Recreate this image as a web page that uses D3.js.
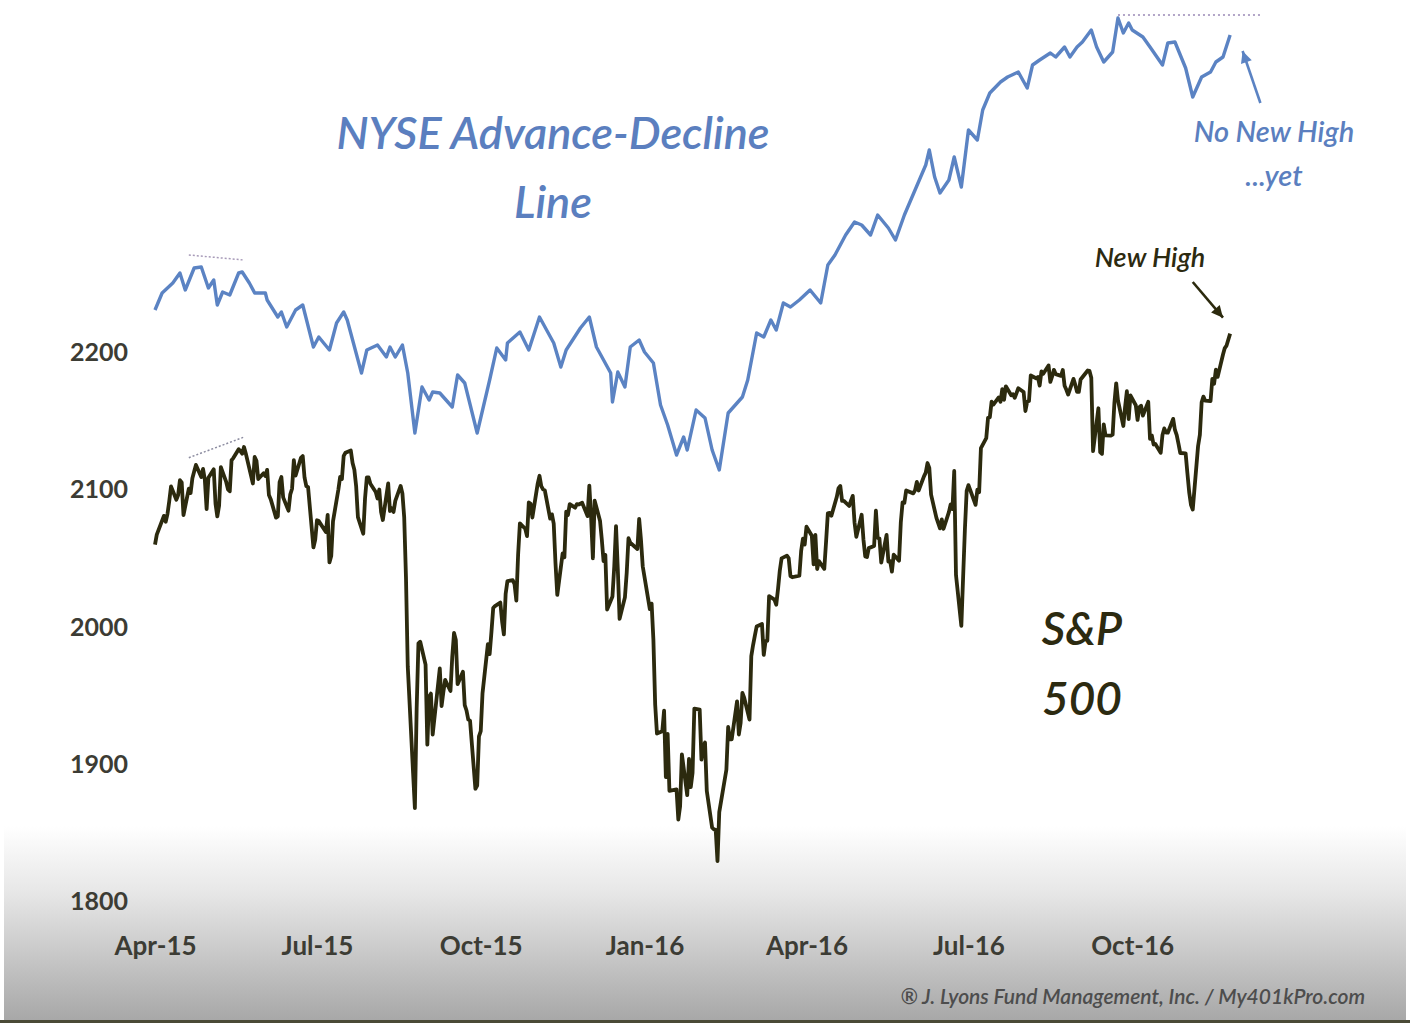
<!DOCTYPE html>
<html>
<head>
<meta charset="utf-8">
<script src="https://cdn.jsdelivr.net/npm/d3@7"></script>
<style>
  body { margin: 0; background: #fff; }
  svg { display: block; font-family: Lato, "Open Sans", sans-serif; }
</style>
</head>
<body>
<div id="chart"></div>
<script>
// ---- data ----
// S&P 500 daily closes, Apr 2015 - Nov 2016
const spData = [
  ["2015-04-01",2059.7],["2015-04-02",2066.9],["2015-04-06",2080.6],["2015-04-07",2076.3],["2015-04-08",2081.9],
  ["2015-04-09",2091.2],["2015-04-10",2102.1],["2015-04-13",2092.4],["2015-04-14",2095.8],["2015-04-15",2106.6],
  ["2015-04-16",2105.0],["2015-04-17",2081.2],["2015-04-20",2100.4],["2015-04-21",2097.3],["2015-04-22",2108.0],
  ["2015-04-23",2112.9],["2015-04-24",2117.7],["2015-04-27",2108.9],["2015-04-28",2114.8],["2015-04-29",2106.9],
  ["2015-04-30",2085.5],["2015-05-01",2108.3],["2015-05-04",2114.5],["2015-05-05",2089.5],["2015-05-06",2080.2],
  ["2015-05-07",2088.0],["2015-05-08",2116.1],["2015-05-11",2105.3],["2015-05-12",2099.9],["2015-05-13",2098.5],
  ["2015-05-14",2121.1],["2015-05-15",2122.7],["2015-05-18",2129.2],["2015-05-19",2127.8],["2015-05-20",2125.9],
  ["2015-05-21",2130.8],["2015-05-22",2126.1],["2015-05-26",2104.2],["2015-05-27",2123.5],["2015-05-28",2120.8],
  ["2015-05-29",2107.4],["2015-06-01",2111.7],["2015-06-02",2109.6],["2015-06-03",2114.1],["2015-06-04",2095.8],
  ["2015-06-05",2092.8],["2015-06-08",2079.3],["2015-06-09",2080.2],["2015-06-10",2105.2],["2015-06-11",2108.9],
  ["2015-06-12",2094.1],["2015-06-15",2084.4],["2015-06-16",2096.3],["2015-06-17",2100.4],["2015-06-18",2121.2],
  ["2015-06-19",2110.0],["2015-06-22",2122.9],["2015-06-23",2124.2],["2015-06-24",2108.6],["2015-06-25",2102.3],
  ["2015-06-26",2101.5],["2015-06-29",2057.6],["2015-06-30",2063.1],["2015-07-01",2077.4],["2015-07-02",2076.8],
  ["2015-07-06",2068.8],["2015-07-07",2081.3],["2015-07-08",2046.7],["2015-07-09",2051.3],["2015-07-10",2076.6],
  ["2015-07-13",2099.6],["2015-07-14",2109.0],["2015-07-15",2107.4],["2015-07-16",2124.3],["2015-07-17",2126.6],
  ["2015-07-20",2128.3],["2015-07-21",2119.2],["2015-07-22",2114.2],["2015-07-23",2102.2],["2015-07-24",2079.7],
  ["2015-07-27",2067.6],["2015-07-28",2093.3],["2015-07-29",2108.6],["2015-07-30",2108.6],["2015-07-31",2104.0],
  ["2015-08-03",2098.0],["2015-08-04",2093.3],["2015-08-05",2099.8],["2015-08-06",2083.6],["2015-08-07",2077.6],
  ["2015-08-10",2104.2],["2015-08-11",2084.1],["2015-08-12",2086.1],["2015-08-13",2083.4],["2015-08-14",2091.5],
  ["2015-08-17",2102.4],["2015-08-18",2096.9],["2015-08-19",2079.6],["2015-08-20",2035.7],["2015-08-21",1970.9],
  ["2015-08-24",1893.2],["2015-08-25",1867.6],["2015-08-26",1940.5],["2015-08-27",1987.7],["2015-08-28",1988.9],
  ["2015-08-31",1972.2],["2015-09-01",1913.9],["2015-09-02",1948.9],["2015-09-03",1951.1],["2015-09-04",1921.2],
  ["2015-09-08",1969.4],["2015-09-09",1942.0],["2015-09-10",1952.3],["2015-09-11",1961.1],["2015-09-14",1953.0],
  ["2015-09-15",1978.1],["2015-09-16",1995.3],["2015-09-17",1990.2],["2015-09-18",1958.0],["2015-09-21",1967.0],
  ["2015-09-22",1942.7],["2015-09-23",1938.8],["2015-09-24",1932.2],["2015-09-25",1931.3],["2015-09-28",1881.8],
  ["2015-09-29",1884.1],["2015-09-30",1920.0],["2015-10-01",1923.8],["2015-10-02",1951.4],["2015-10-05",1987.1],
  ["2015-10-06",1979.9],["2015-10-07",1995.8],["2015-10-08",2013.4],["2015-10-09",2014.9],["2015-10-12",2017.5],
  ["2015-10-13",2003.7],["2015-10-14",1994.2],["2015-10-15",2023.9],["2015-10-16",2033.1],["2015-10-19",2033.7],
  ["2015-10-20",2030.8],["2015-10-21",2018.9],["2015-10-22",2052.5],["2015-10-23",2075.2],["2015-10-26",2071.2],
  ["2015-10-27",2065.9],["2015-10-28",2090.4],["2015-10-29",2089.4],["2015-10-30",2079.4],["2015-11-02",2104.1],
  ["2015-11-03",2109.8],["2015-11-04",2102.3],["2015-11-05",2099.9],["2015-11-06",2099.2],["2015-11-09",2078.6],
  ["2015-11-10",2081.7],["2015-11-11",2075.0],["2015-11-12",2046.0],["2015-11-13",2023.0],["2015-11-16",2053.2],
  ["2015-11-17",2050.4],["2015-11-18",2083.6],["2015-11-19",2081.2],["2015-11-20",2089.2],["2015-11-23",2086.6],
  ["2015-11-24",2089.1],["2015-11-25",2088.9],["2015-11-27",2090.1],["2015-11-30",2080.4],["2015-12-01",2102.6],
  ["2015-12-02",2079.5],["2015-12-03",2049.6],["2015-12-04",2091.7],["2015-12-07",2077.1],["2015-12-08",2063.6],
  ["2015-12-09",2047.6],["2015-12-10",2052.2],["2015-12-11",2012.4],["2015-12-14",2021.9],["2015-12-15",2043.4],
  ["2015-12-16",2073.1],["2015-12-17",2041.9],["2015-12-18",2005.6],["2015-12-21",2021.2],["2015-12-22",2039.0],
  ["2015-12-23",2064.3],["2015-12-24",2061.0],["2015-12-28",2056.5],["2015-12-29",2078.4],["2015-12-30",2063.4],
  ["2015-12-31",2043.9],["2016-01-04",2012.7],["2016-01-05",2016.7],["2016-01-06",1990.3],["2016-01-07",1943.1],
  ["2016-01-08",1922.0],["2016-01-11",1923.7],["2016-01-12",1938.7],["2016-01-13",1890.3],["2016-01-14",1921.8],
  ["2016-01-15",1880.3],["2016-01-19",1881.3],["2016-01-20",1859.3],["2016-01-21",1869.0],["2016-01-22",1906.9],
  ["2016-01-25",1877.1],["2016-01-26",1903.6],["2016-01-27",1883.0],["2016-01-28",1893.4],["2016-01-29",1940.2],
  ["2016-02-01",1939.4],["2016-02-02",1903.0],["2016-02-03",1912.5],["2016-02-04",1915.5],["2016-02-05",1880.1],
  ["2016-02-08",1853.4],["2016-02-09",1852.2],["2016-02-10",1851.9],["2016-02-11",1829.1],["2016-02-12",1864.8],
  ["2016-02-16",1895.6],["2016-02-17",1926.8],["2016-02-18",1917.8],["2016-02-19",1917.8],["2016-02-22",1945.5],
  ["2016-02-23",1921.3],["2016-02-24",1929.8],["2016-02-25",1951.7],["2016-02-26",1948.1],["2016-02-29",1932.2],
  ["2016-03-01",1978.4],["2016-03-02",1986.5],["2016-03-03",1993.4],["2016-03-04",2000.0],["2016-03-07",2001.8],
  ["2016-03-08",1979.3],["2016-03-09",1989.3],["2016-03-10",1989.6],["2016-03-11",2022.2],["2016-03-14",2019.6],
  ["2016-03-15",2015.9],["2016-03-16",2027.2],["2016-03-17",2040.6],["2016-03-18",2049.6],["2016-03-21",2051.6],
  ["2016-03-22",2049.8],["2016-03-23",2036.7],["2016-03-24",2035.9],["2016-03-28",2037.1],["2016-03-29",2055.0],
  ["2016-03-30",2064.0],["2016-03-31",2059.7],["2016-04-01",2072.8],["2016-04-04",2066.1],["2016-04-05",2045.2],
  ["2016-04-06",2066.7],["2016-04-07",2041.9],["2016-04-08",2047.6],["2016-04-11",2042.0],["2016-04-12",2061.7],
  ["2016-04-13",2082.4],["2016-04-14",2082.8],["2016-04-15",2080.7],["2016-04-18",2094.3],["2016-04-19",2100.8],
  ["2016-04-20",2102.4],["2016-04-21",2091.5],["2016-04-22",2091.6],["2016-04-25",2087.8],["2016-04-26",2091.7],
  ["2016-04-27",2095.2],["2016-04-28",2075.8],["2016-04-29",2065.3],["2016-05-02",2081.4],["2016-05-03",2063.4],
  ["2016-05-04",2051.1],["2016-05-05",2050.6],["2016-05-06",2057.1],["2016-05-09",2058.7],["2016-05-10",2084.4],
  ["2016-05-11",2064.5],["2016-05-12",2064.1],["2016-05-13",2046.6],["2016-05-16",2066.7],["2016-05-17",2047.2],
  ["2016-05-18",2047.6],["2016-05-19",2040.0],["2016-05-20",2052.3],["2016-05-23",2048.0],["2016-05-24",2076.1],
  ["2016-05-25",2090.5],["2016-05-26",2090.1],["2016-05-27",2099.1],["2016-05-31",2097.0],["2016-06-01",2099.3],
  ["2016-06-02",2105.3],["2016-06-03",2099.1],["2016-06-06",2109.4],["2016-06-07",2112.1],["2016-06-08",2119.1],
  ["2016-06-09",2115.5],["2016-06-10",2096.1],["2016-06-13",2079.1],["2016-06-14",2075.3],["2016-06-15",2071.5],
  ["2016-06-16",2078.0],["2016-06-17",2071.2],["2016-06-20",2083.3],["2016-06-21",2088.9],["2016-06-22",2085.5],
  ["2016-06-23",2113.3],["2016-06-24",2037.4],["2016-06-27",2000.5],["2016-06-28",2036.1],["2016-06-29",2070.8],
  ["2016-06-30",2098.9],["2016-07-01",2103.0],["2016-07-05",2088.6],["2016-07-06",2099.7],["2016-07-07",2097.9],
  ["2016-07-08",2129.9],["2016-07-11",2137.2],["2016-07-12",2152.1],["2016-07-13",2152.4],["2016-07-14",2163.8],
  ["2016-07-15",2161.7],["2016-07-18",2166.9],["2016-07-19",2163.8],["2016-07-20",2173.0],["2016-07-21",2165.2],
  ["2016-07-22",2175.0],["2016-07-25",2168.5],["2016-07-26",2169.2],["2016-07-27",2166.6],["2016-07-28",2170.1],
  ["2016-07-29",2173.6],["2016-08-01",2170.8],["2016-08-02",2157.0],["2016-08-03",2163.8],["2016-08-04",2164.3],
  ["2016-08-05",2182.9],["2016-08-08",2180.9],["2016-08-09",2181.7],["2016-08-10",2175.5],["2016-08-11",2185.8],
  ["2016-08-12",2184.1],["2016-08-15",2190.2],["2016-08-16",2178.2],["2016-08-17",2182.2],["2016-08-18",2187.0],
  ["2016-08-19",2183.9],["2016-08-22",2182.6],["2016-08-23",2186.9],["2016-08-24",2175.4],["2016-08-25",2172.5],
  ["2016-08-26",2169.0],["2016-08-29",2180.4],["2016-08-30",2176.1],["2016-08-31",2171.0],["2016-09-01",2170.9],
  ["2016-09-02",2180.0],["2016-09-06",2186.5],["2016-09-07",2186.2],["2016-09-08",2181.3],["2016-09-09",2127.8],
  ["2016-09-12",2159.0],["2016-09-13",2127.0],["2016-09-14",2125.8],["2016-09-15",2147.3],["2016-09-16",2139.2],
  ["2016-09-19",2139.1],["2016-09-20",2139.8],["2016-09-21",2163.1],["2016-09-22",2177.2],["2016-09-23",2164.7],
  ["2016-09-26",2146.1],["2016-09-27",2159.9],["2016-09-28",2171.4],["2016-09-29",2151.1],["2016-09-30",2168.3],
  ["2016-10-03",2161.2],["2016-10-04",2150.5],["2016-10-05",2159.7],["2016-10-06",2160.8],["2016-10-07",2153.7],
  ["2016-10-10",2163.7],["2016-10-11",2136.7],["2016-10-12",2139.2],["2016-10-13",2132.6],["2016-10-14",2133.0],
  ["2016-10-17",2126.5],["2016-10-18",2139.6],["2016-10-19",2144.3],["2016-10-20",2141.3],["2016-10-21",2141.2],
  ["2016-10-24",2151.3],["2016-10-25",2143.2],["2016-10-26",2139.4],["2016-10-27",2133.0],["2016-10-28",2126.4],
  ["2016-10-31",2126.2],["2016-11-01",2111.7],["2016-11-02",2097.9],["2016-11-03",2088.7],["2016-11-04",2085.2],
  ["2016-11-07",2131.5],["2016-11-08",2139.6],["2016-11-09",2163.3],["2016-11-10",2167.5],["2016-11-11",2164.5],
  ["2016-11-14",2164.2],["2016-11-15",2180.4],["2016-11-16",2176.9],["2016-11-17",2187.1],["2016-11-18",2181.9],
  ["2016-11-21",2198.2],["2016-11-22",2202.9],["2016-11-23",2204.7],["2016-11-25",2213.4]
];

// NYSE advance-decline line (relative level)
const adData = [
  ["2015-04-01",19.0],["2015-04-05",20.7],["2015-04-11",21.7],["2015-04-15",22.7],["2015-04-18",21.0],
  ["2015-04-23",23.2],["2015-04-27",23.3],["2015-05-01",21.2],["2015-05-04",22.0],["2015-05-06",19.5],
  ["2015-05-09",20.8],["2015-05-13",20.5],["2015-05-18",22.7],["2015-05-20",22.8],["2015-05-24",21.7],
  ["2015-05-27",20.7],["2015-06-02",20.7],["2015-06-03",20.0],["2015-06-09",18.3],["2015-06-11",18.8],
  ["2015-06-14",17.3],["2015-06-19",19.0],["2015-06-23",19.5],["2015-06-29",15.3],["2015-07-02",16.3],
  ["2015-07-08",15.0],["2015-07-12",17.7],["2015-07-16",18.8],["2015-07-18",18.0],["2015-07-26",12.7],
  ["2015-07-29",15.0],["2015-08-04",15.5],["2015-08-09",14.3],["2015-08-11",15.3],["2015-08-14",14.3],
  ["2015-08-18",15.5],["2015-08-21",12.7],["2015-08-25",6.7],["2015-08-29",11.3],["2015-09-02",10.0],
  ["2015-09-04",10.8],["2015-09-08",10.7],["2015-09-15",9.3],["2015-09-18",12.5],["2015-09-22",11.7],
  ["2015-09-29",6.7],["2015-10-06",12.0],["2015-10-10",15.2],["2015-10-15",14.0],["2015-10-16",15.7],
  ["2015-10-23",16.8],["2015-10-28",15.0],["2015-11-03",18.3],["2015-11-11",15.7],["2015-11-15",13.3],
  ["2015-11-18",15.0],["2015-11-26",17.2],["2015-12-01",18.3],["2015-12-05",15.3],["2015-12-13",12.7],
  ["2015-12-14",9.8],["2015-12-17",12.8],["2015-12-21",11.3],["2015-12-24",15.3],["2015-12-29",16.0],
  ["2016-01-01",14.8],["2016-01-06",13.7],["2016-01-10",9.5],["2016-01-14",7.5],["2016-01-19",4.5],
  ["2016-01-23",6.3],["2016-01-25",5.0],["2016-01-30",9.0],["2016-02-04",8.2],["2016-02-08",5.0],
  ["2016-02-12",3.0],["2016-02-17",8.7],["2016-02-22",9.7],["2016-02-25",10.3],["2016-02-28",12.0],
  ["2016-03-04",16.7],["2016-03-08",16.3],["2016-03-12",18.0],["2016-03-15",17.0],["2016-03-19",19.7],
  ["2016-03-23",19.3],["2016-03-28",20.0],["2016-04-03",21.0],["2016-04-09",19.7],["2016-04-13",23.5],
  ["2016-04-17",24.5],["2016-04-23",26.5],["2016-04-28",27.8],["2016-05-02",27.5],["2016-05-07",26.5],
  ["2016-05-11",28.5],["2016-05-17",27.2],["2016-05-21",26.0],["2016-05-26",28.5],["2016-06-01",31.0],
  ["2016-06-07",33.5],["2016-06-09",35.0],["2016-06-12",32.3],["2016-06-15",30.7],["2016-06-20",32.0],
  ["2016-06-23",34.3],["2016-06-27",31.3],["2016-07-01",37.0],["2016-07-06",36.0],["2016-07-09",39.0],
  ["2016-07-13",40.7],["2016-07-19",41.8],["2016-07-23",42.3],["2016-07-29",42.8],["2016-08-03",41.2],
  ["2016-08-06",43.5],["2016-08-10",44.0],["2016-08-16",44.7],["2016-08-19",44.3],["2016-08-24",45.3],
  ["2016-08-27",44.3],["2016-08-31",45.3],["2016-09-03",45.8],["2016-09-08",47.0],["2016-09-11",45.3],
  ["2016-09-15",43.8],["2016-09-20",44.8],["2016-09-23",48.2],["2016-09-26",46.7],["2016-09-29",47.7],
  ["2016-10-01",47.0],["2016-10-07",46.3],["2016-10-11",45.3],["2016-10-18",43.5],["2016-10-21",45.7],
  ["2016-10-25",45.8],["2016-10-31",43.2],["2016-11-04",40.3],["2016-11-09",42.3],["2016-11-14",42.8],
  ["2016-11-17",43.8],["2016-11-21",44.3],["2016-11-25",46.5]
];

const yTicks = [1800, 1900, 2000, 2100, 2200];
const xTickDates = ["2015-04-01","2015-07-01","2015-10-01","2016-01-01","2016-04-01","2016-07-01","2016-10-01"];
const xTickLabels = ["Apr-15","Jul-15","Oct-15","Jan-16","Apr-16","Jul-16","Oct-16"];

// annotation guides (date, level)
const adPrevHigh = [["2015-04-20",24.5],["2015-05-21",24.0]];
const spPrevHigh = [["2015-04-20",2123],["2015-05-21",2138]];
const adTopLine = [["2016-09-23",48.5],["2016-12-12",48.5]];

// ---- setup ----
const width = 1410, height = 1023;
const parse = d3.timeParse("%Y-%m-%d");

const svg = d3.select("#chart").append("svg")
    .attr("width", width)
    .attr("height", height);

// bottom grey fade
const defs = svg.append("defs");
const grad = defs.append("linearGradient")
    .attr("id", "fade")
    .attr("x1", 0).attr("y1", 0).attr("x2", 0).attr("y2", 1);
grad.append("stop").attr("offset", "0%").attr("stop-color", "#ffffff");
grad.append("stop").attr("offset", "35%").attr("stop-color", "#e6e6e6");
grad.append("stop").attr("offset", "100%").attr("stop-color", "#a7a7a7");

svg.append("rect")
    .attr("x", 4).attr("y", 826)
    .attr("width", 1402).attr("height", 195)
    .attr("fill", "url(#fade)");
svg.append("rect")
    .attr("x", 0).attr("y", 1020)
    .attr("width", width).attr("height", 3)
    .attr("fill", "#4a4a36");

// scales
const x = d3.scaleTime()
    .domain([parse("2015-04-01"), parse("2016-12-01")])
    .range([155, 155 + 610 * 1.78]);
const y = d3.scaleLinear().domain([1800, 2200]).range([901, 352]);
const yAD = d3.scaleLinear().domain([0, 50]).range([500, 0]);

// axes (labels only)
const yAxis = svg.append("g")
    .attr("class", "axis axis--y")
    .attr("transform", "translate(130,0)")
    .call(d3.axisLeft(y).tickValues(yTicks).tickSize(0).tickPadding(2).tickFormat(d3.format("d")));
yAxis.select(".domain").remove();
yAxis.selectAll("text")
    .attr("dy", "0.34em")
    .style("font-family", "Lato, sans-serif")
    .style("font-size", "25px")
    .style("font-weight", "700")
    .style("fill", "#3c3c34");

const xAxis = svg.append("g")
    .attr("class", "axis axis--x")
    .attr("transform", "translate(0,934)")
    .call(d3.axisBottom(x)
        .tickValues(xTickDates.map(parse))
        .tickSize(0)
        .tickPadding(0)
        .tickFormat((d, i) => xTickLabels[i]));
xAxis.select(".domain").remove();
xAxis.selectAll("text")
    .attr("dy", "0.8em")
    .style("font-family", "Lato, sans-serif")
    .style("font-size", "26px")
    .style("font-weight", "700")
    .style("fill", "#3c3c34");

// lines
const spLine = d3.line().x(d => x(parse(d[0]))).y(d => y(d[1]));
const adLine = d3.line().x(d => x(parse(d[0]))).y(d => yAD(d[1]));

svg.append("path")
    .datum(adData)
    .attr("d", adLine)
    .attr("fill", "none")
    .attr("stroke", "#5b83c3")
    .attr("stroke-width", 3.4)
    .attr("stroke-linejoin", "round");

svg.append("path")
    .datum(spData)
    .attr("d", spLine)
    .attr("fill", "none")
    .attr("stroke", "#2c2a0e")
    .attr("stroke-width", 3.8)
    .attr("stroke-linejoin", "round");

// dotted guides
svg.append("path").datum(adPrevHigh).attr("d", adLine)
    .attr("stroke", "#a79ab8").attr("stroke-width", 1.5).attr("stroke-dasharray", "2,2").attr("fill", "none");
svg.append("path").datum(spPrevHigh).attr("d", spLine)
    .attr("stroke", "#8c8ca0").attr("stroke-width", 1.5).attr("stroke-dasharray", "2,2").attr("fill", "none");
svg.append("path").datum(adTopLine).attr("d", adLine)
    .attr("stroke", "#b3a6c8").attr("stroke-width", 1.8).attr("stroke-dasharray", "2,3").attr("fill", "none");

// arrows
function arrow(x1, y1, x2, y2, color) {
    const a = Math.atan2(y2 - y1, x2 - x1), h = 13, w = 0.45;
    svg.append("line")
        .attr("x1", x1).attr("y1", y1).attr("x2", x2).attr("y2", y2)
        .attr("stroke", color).attr("stroke-width", 2.6);
    svg.append("path")
        .attr("d", `M${x2},${y2}L${x2 - h * Math.cos(a - w)},${y2 - h * Math.sin(a - w)}L${x2 - h * Math.cos(a + w)},${y2 - h * Math.sin(a + w)}Z`)
        .attr("fill", color);
}
arrow(x(parse("2016-12-12")), yAD(39.7), x(parse("2016-12-02")), yAD(44.9), "#5b83c3");
arrow(x(parse("2016-11-04")), y(2251), x(parse("2016-11-21")), y(2225), "#2c2a0e");

// text labels
const blue = "#5b7fbf", dark = "#2c2a10";
function label(txt, cx, cy, size, color, anchor) {
    svg.append("text")
        .attr("x", cx).attr("y", cy)
        .attr("text-anchor", anchor || "middle")
        .style("font-family", "Lato, sans-serif")
        .style("font-style", "italic")
        .style("font-weight", "600")
        .style("font-size", size + "px")
        .style("fill", color)
        .text(txt);
}
label("NYSE Advance-Decline", 553, 149, 45, blue);
label("Line", 553, 218, 45, blue);
label("No New High", 1274, 142, 29, blue);
label("...yet", 1274, 186, 29, blue);
label("New High", 1150, 267, 27, dark);
label("S&P", 1082, 645, 46, dark);
label("500", 1082, 715, 46, dark);
label("\u00AE J. Lyons Fund Management, Inc. / My401kPro.com", 1365, 1004, 21, "#4d4d4d", "end");
</script>
</body>
</html>
